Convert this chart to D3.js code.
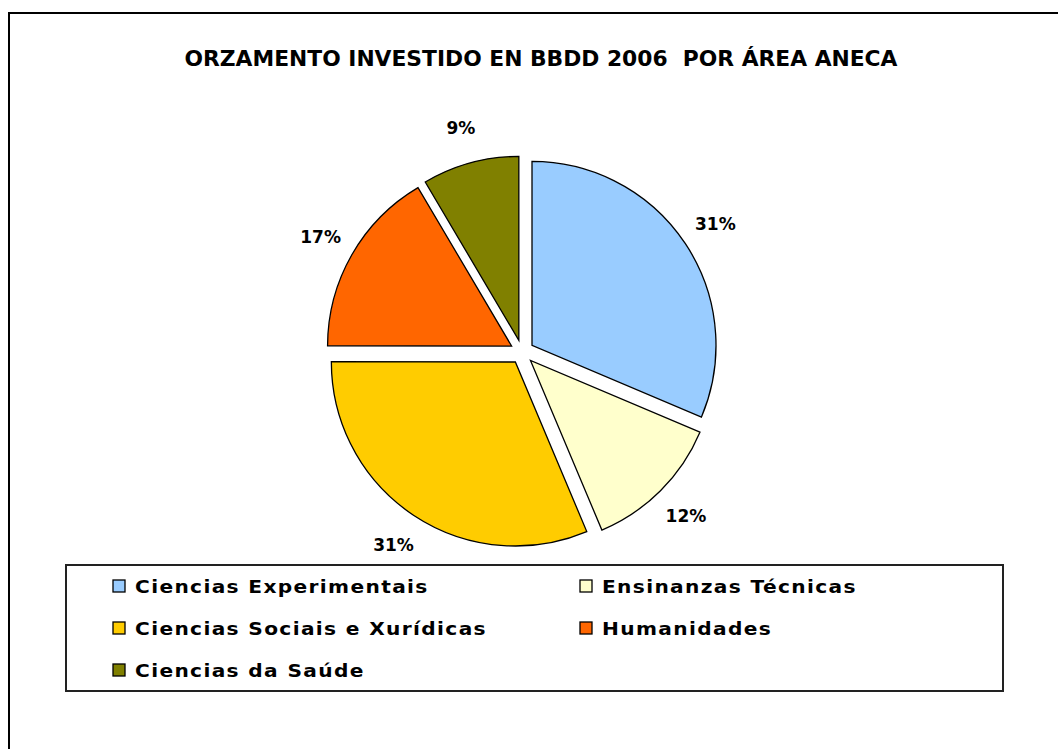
<!DOCTYPE html>
<html>
<head>
<meta charset="utf-8">
<script src="https://cdn.jsdelivr.net/npm/d3@7"></script>
<style>
  body { margin: 0; background: #fff; }
  text { font-family: "DejaVu Sans", sans-serif; font-weight: bold; fill: #000; }
</style>
</head>
<body>
<svg id="chart" width="1058" height="749"></svg>
<script>
// data (labels show the rounded shares)
var titleText = "ORZAMENTO INVESTIDO EN BBDD 2006  POR ÁREA ANECA";
var categories = ["Ciencias Experimentais", "Ensinanzas Técnicas", "Ciencias Sociais e Xurídicas", "Humanidades", "Ciencias da Saúde"];
var shares = [31.4, 12.3, 31.4, 16.5, 8.5];
var sliceColors = ["#99ccff", "#ffffcc", "#ffcc00", "#ff6600", "#808000"];

var svg = d3.select("#chart"),
    cx = 522, cy = 352,
    radius = 184,
    explode = 12,
    labelRadius = 232;

var color = d3.scaleOrdinal().domain(categories).range(sliceColors);

// marco exterior (sae fora da imaxe pola dereita e por abaixo)
svg.append("rect")
  .attr("x", 9).attr("y", 13)
  .attr("width", 1100).attr("height", 800)
  .attr("fill", "none")
  .attr("stroke", "#000")
  .attr("stroke-width", 2);

svg.append("text")
  .attr("x", 541).attr("y", 66)
  .attr("text-anchor", "middle")
  .style("white-space", "pre")
  .style("font-size", "21px")
  .attr("textLength", 713)
  .attr("lengthAdjust", "spacingAndGlyphs")
  .text(titleText);

/* TARTA */

var pie = d3.pie().sort(null).value(function(d){ return d; });
var arcs = pie(shares);

var arc = d3.arc().innerRadius(0).outerRadius(radius);
var labelArc = d3.arc().innerRadius(labelRadius).outerRadius(labelRadius);

var g = svg.append("g").attr("transform", "translate(" + cx + "," + cy + ")");

var slice = g.selectAll(".slice")
  .data(arcs)
  .enter().append("g")
  .attr("class", "slice")
  .attr("transform", function(d){
    var a = (d.startAngle + d.endAngle) / 2;
    return "translate(" + (Math.sin(a) * explode) + "," + (-Math.cos(a) * explode) + ")";
  });

slice.append("path")
  .attr("d", arc)
  .attr("fill", function(d, i){ return color(categories[i]); })
  .attr("stroke", "#000")
  .attr("stroke-width", 1.3);

g.selectAll(".pct")
  .data(arcs)
  .enter().append("text")
  .attr("class", "pct")
  .attr("transform", function(d){ return "translate(" + labelArc.centroid(d) + ")"; })
  .attr("text-anchor", "middle")
  .attr("dy", "0.36em")
  .style("font-size", "17px")
  .text(function(d){ return Math.round(d.data) + "%"; });

/* LENDA */

var legend = svg.append("g");

legend.append("rect")
  .attr("x", 66).attr("y", 565)
  .attr("width", 937).attr("height", 126)
  .attr("fill", "#fff")
  .attr("stroke", "#222")
  .attr("stroke-width", 2);

var item = legend.selectAll(".item")
  .data(categories)
  .enter().append("g")
  .attr("class", "item")
  .attr("transform", function(d, i){
    return "translate(" + (i % 2 ? 580 : 113) + "," + (580 + Math.floor(i / 2) * 42) + ")";
  });

item.append("rect")
  .attr("width", 12).attr("height", 12)
  .attr("fill", function(d){ return color(d); })
  .attr("stroke", "#000")
  .attr("stroke-width", 1.3);

item.append("text")
  .attr("transform", "translate(22,13) scale(1.12,1)")
  .style("font-size", "18px")
  .style("letter-spacing", "1.2px")
  .text(function(d){ return d; });
</script>
</body>
</html>
